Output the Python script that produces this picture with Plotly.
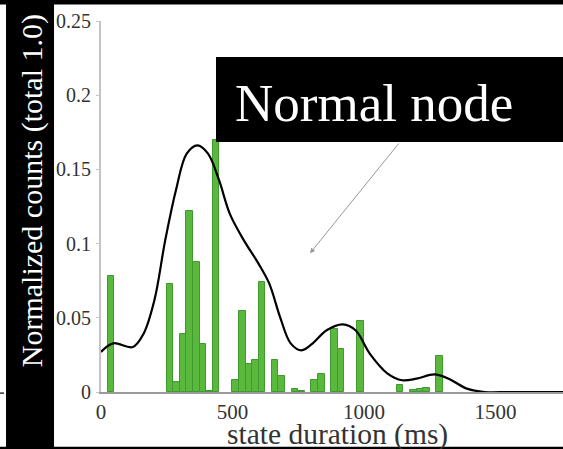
import plotly.graph_objects as go

# Histogram bins (state duration, ms) and normalized counts
bin_centers = [37.5, 262.5, 287.5, 312.5, 337.5, 362.5, 387.5, 412.5, 437.5,
               512.5, 537.5, 562.5, 587.5, 612.5, 662.5, 687.5, 737.5, 762.5,
               812.5, 837.5, 887.5, 912.5, 987.5, 1137.5, 1187.5, 1212.5,
               1237.5, 1287.5]
counts = [0.078, 0.0726, 0.0067, 0.039, 0.122, 0.0876, 0.0326, 0.001, 0.17,
          0.0079, 0.0546, 0.019, 0.0218, 0.074, 0.0218, 0.0106, 0.002, 0.001,
          0.0079, 0.0124, 0.0427, 0.029, 0.0479, 0.0045, 0.0015, 0.002,
          0.0025, 0.0243]

# Smoothed density curve
curve_x = [0, 46, 121, 162, 203, 244, 285, 326, 367, 407, 449, 490, 544, 599,
           640, 681, 722, 763, 804, 858, 920, 968, 1022, 1090, 1145, 1200,
           1268, 1322, 1391, 1459, 1550, 1650, 1760]
curve_y = [0.027, 0.0328, 0.0303, 0.0393, 0.0618, 0.102, 0.136, 0.1606,
           0.1662, 0.1606, 0.1427, 0.120, 0.102, 0.0865, 0.073, 0.0505,
           0.0326, 0.0281, 0.0326, 0.0416, 0.0456, 0.0416, 0.0259, 0.0124,
           0.0079, 0.009, 0.0119, 0.009, 0.0023, 0.0, 0.0, 0.0, 0.0]

y_ticks = [0, 0.05, 0.1, 0.15, 0.2, 0.25]
y_ticktext = ["0", "0.05", "0.1", "0.15", "0.2", "0.25"]
x_ticks = [0, 500, 1000, 1500]
x_ticktext = ["0", "500", "1000", "1500"]

serif = "Liberation Serif, Times New Roman, serif"

fig = go.Figure()
fig.add_trace(go.Bar(
    x=bin_centers, y=counts, width=25,
    marker=dict(color="#5ab83c", line=dict(color="#3f9a2f", width=1)),
    showlegend=False,
))
fig.add_trace(go.Scatter(
    x=curve_x, y=curve_y, mode="lines",
    line=dict(color="black", width=2.2, shape="spline", smoothing=1.0),
    showlegend=False,
))

shapes = [
    # left black band
    dict(type="rect", xref="paper", yref="paper", x0=-0.2056, x1=-0.1017,
         y0=-0.25, y1=1.2, fillcolor="black", line=dict(width=0), layer="above"),
    # top black band
    dict(type="rect", xref="paper", yref="paper", x0=-0.3, x1=1.1,
         y0=1.0442, y1=1.2, fillcolor="black", line=dict(width=0), layer="above"),
    # bottom black line
    dict(type="rect", xref="paper", yref="paper", x0=-0.3, x1=1.1,
         y0=-0.25, y1=-0.1477, fillcolor="black", line=dict(width=0), layer="above"),
    # small dash at far left
    dict(type="line", xref="paper", yref="paper", x0=-0.2186, x1=-0.2100,
         y0=-0.003, y1=-0.003, line=dict(color="#333", width=1.5)),
    # annotation box
    dict(type="rect", xref="paper", yref="paper", x0=0.2489, x1=1.05,
         y0=0.6739, y1=0.903, fillcolor="black", line=dict(width=0), layer="above"),
]

annotations = [
    dict(text="Normalized counts (total 1.0)", xref="paper", yref="paper",
         x=-0.1494, y=0.5437, textangle=-90, showarrow=False,
         font=dict(family=serif, size=30, color="white"),
         xanchor="center", yanchor="middle"),
    dict(text="state duration (ms)", xref="paper", yref="paper",
         x=0.512, y=-0.115, showarrow=False,
         font=dict(family=serif, size=29.5, color="#333333"),
         xanchor="center", yanchor="middle"),
    dict(text="Normal node", xref="paper", yref="paper",
         x=0.591, y=0.778, showarrow=False,
         font=dict(family=serif, size=53, color="white"),
         xanchor="center", yanchor="middle"),
    dict(text="", x=795, y=0.0935, xref="x", yref="y",
         ax=1137, ay=0.1685, axref="x", ayref="y",
         showarrow=True, arrowhead=2, arrowsize=1.0, arrowwidth=1,
         arrowcolor="#999999"),
]

fig.update_layout(
    width=563, height=449,
    margin=dict(l=101, r=0, t=21, b=57),
    paper_bgcolor="white", plot_bgcolor="white",
    bargap=0,
    shapes=shapes, annotations=annotations,
    xaxis=dict(range=[0, 1757], tickvals=x_ticks, ticktext=x_ticktext,
               showgrid=False, zeroline=False, showline=True,
               linecolor="#9a9a9a", linewidth=1.5, ticks="",
               ticklabelstandoff=0,
               tickfont=dict(family=serif, size=21, color="#333333")),
    yaxis=dict(range=[0, 0.25], tickvals=y_ticks, ticktext=y_ticktext,
               showgrid=False, zeroline=False, showline=True,
               linecolor="#c4c4c4", linewidth=2, ticks="outside",
               ticklen=3, tickcolor="#c4c4c4",
               ticklabelstandoff=1,
               tickfont=dict(family=serif, size=20, color="#333333")),
)

fig.write_html(
    "out.html",
    config={"displayModeBar": False},
    post_script="document.body.style.margin='0';document.body.style.overflow='hidden';",
)
